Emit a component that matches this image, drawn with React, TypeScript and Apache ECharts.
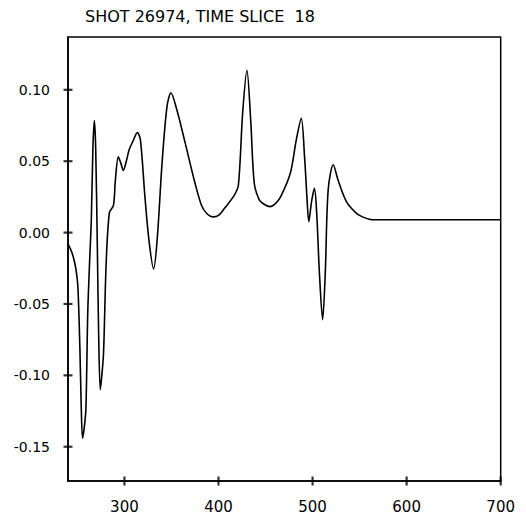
import React, { useEffect, useRef } from "react";
import * as echarts from "echarts";

const title = "SHOT 26974, TIME SLICE  18";
const xValues = [240, 243, 246, 248.5, 250.5, 252.6, 254, 255.4, 257, 259, 261, 263, 264.8, 266.5, 268, 269.4, 271.2, 272.5, 274.3, 276, 277.8, 280.6, 284, 288.3, 290.4, 293.5, 296, 298.8, 302, 305, 309, 313.8, 317, 321.8, 326, 331, 334.8, 340, 345.2, 349.4, 355.7, 364.5, 375, 382, 388, 394.2, 400, 406.5, 417, 421.2, 425.7, 430.2, 434.4, 438, 443.3, 448, 454.4, 460, 466, 476.4, 482.7, 488, 491.5, 494, 496, 499, 502, 504.4, 507.3, 510.7, 513.5, 516.6, 522, 527, 536, 546.4, 553, 560.4, 566, 580, 620, 660, 700];
const yValues = [-0.008, -0.012, -0.018, -0.026, -0.038, -0.08, -0.12, -0.144, -0.138, -0.124, -0.056, -0.02, 0.009, 0.06, 0.0785, 0.06, -0.01, -0.068, -0.11, -0.1, -0.084, -0.021, 0.014, 0.019, 0.037, 0.053, 0.049, 0.0435, 0.05, 0.058, 0.064, 0.07, 0.065, 0.025, -0.005, -0.0255, -0.005, 0.0487, 0.088, 0.098, 0.086, 0.063, 0.0347, 0.019, 0.013, 0.011, 0.012, 0.017, 0.0264, 0.0335, 0.084, 0.1136, 0.0767, 0.0347, 0.0229, 0.02, 0.0182, 0.02, 0.025, 0.0417, 0.065, 0.08, 0.053, 0.025, 0.0077, 0.022, 0.031, 0.0136, -0.0285, -0.061, -0.0285, 0.03, 0.0475, 0.037, 0.0217, 0.0136, 0.011, 0.0094, 0.009, 0.009, 0.009, 0.009, 0.009];
const xTicks = [300, 400, 500, 600, 700];
const yTicks = [-0.15, -0.1, -0.05, 0, 0.05, 0.1];
const X_MIN = 240;
const X_MAX = 700;
const Y_MIN = -0.174;
const Y_MAX = 0.137;

const FONT = "DejaVu Sans";

export default function App() {
  const ref = useRef<HTMLDivElement>(null);
  useEffect(() => {
    if (!ref.current) return;
    const chart = echarts.init(ref.current, undefined, { renderer: "svg" });
    const data = xValues.map((x, i) => [x, yValues[i]]);
    chart.setOption({
      animation: false,
      backgroundColor: "#fff",
      title: {
        text: title,
        left: 77,
        top: 0,
        padding: 0,
        textStyle: { color: "#000", fontFamily: FONT, fontSize: 16, fontWeight: "normal" },
      },
      grid: { left: 60, top: 29, right: 10, bottom: 37, show: true, borderColor: "#000", borderWidth: 1.5 },
      xAxis: {
        type: "value",
        min: X_MIN,
        max: X_MAX,
        splitLine: { show: false },
        axisLine: { show: true, onZero: false, lineStyle: { color: "#000", width: 1.5 } },
        axisTick: { show: false },
        axisLabel: { color: "#000", fontFamily: FONT, fontSize: 15, margin: 18, customValues: xTicks, formatter: (v: number) => String(v) },
      },
      yAxis: {
        type: "value",
        min: Y_MIN,
        max: Y_MAX,
        splitLine: { show: false },
        axisLine: { show: true, onZero: false, lineStyle: { color: "#000", width: 1.5 } },
        axisTick: { show: false },
        axisLabel: { color: "#000", fontFamily: FONT, fontSize: 14, margin: 18, customValues: yTicks, formatter: (v: number) => v.toFixed(2) },
      },
      series: [
        {
          type: "line",
          data,
          smooth: 0.3,
          showSymbol: false,
          lineStyle: { color: "#000", width: 1.6 },
          z: 3,
        },
        {
          type: "scatter",
          data: xTicks.map((t) => [t, Y_MIN]),
          symbol: "rect",
          symbolSize: [2.2, 9],
          itemStyle: { color: "#000" },
          clip: false,
          silent: true,
          z: 4,
        },
        {
          type: "scatter",
          data: yTicks.map((t) => [X_MIN, t]),
          symbol: "rect",
          symbolSize: [9, 2.2],
          itemStyle: { color: "#000" },
          clip: false,
          silent: true,
          z: 4,
        },
      ],
    });
    return () => chart.dispose();
  }, []);
  return <div ref={ref} style={{ width: 510, height: 510 }} />;
}
